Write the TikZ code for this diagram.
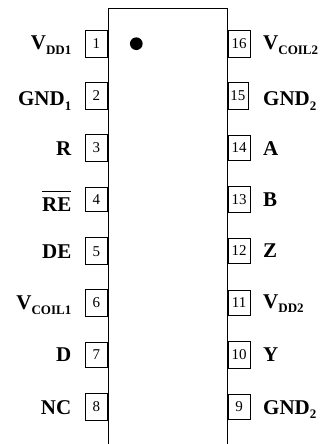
\documentclass[tikz,border=0pt]{standalone}
\usepackage{fontspec}
\setmainfont{Liberation Serif}
\tikzset{
  x=1pt,y=-1pt,
  pinbox/.style={draw,line width=0.6pt,inner sep=0pt,font=\fontsize{15}{16}\selectfont},
  lab/.style={inner sep=0pt,font=\bfseries\fontsize{21}{22}\selectfont},
  chip/.style={line width=0.7pt}
}
\newcommand{\subs}[2]{#1\raisebox{-4.8pt}{\fontsize{13}{14}\selectfont #2}}
\begin{document}
\begin{tikzpicture}
\useasboundingbox (0,0) rectangle (321,444);
\coordinate (tl) at (108,8.5);
\coordinate (tr) at (227.5,8.5);
\coordinate (bl) at (108,444);
\coordinate (br) at (227.5,444);
\draw[chip] (bl) -- (tl) -- (tr) -- (br);
\node[circle,fill=black,inner sep=0pt,minimum size=12.7pt] (dot) at (136.3,43.7) {};
% number / box centre / box height / label baseline / label
\foreach \n/\y/\h/\b/\t in {1/44/26.6/50/{\subs{V}{DD1}},2/95.5/27/105.7/{\subs{GND}{1}},3/147.8/27/155/{R},4/199.3/24.7/211/{\rlap{\rule[19.6pt]{29pt}{0.7pt}}RE},5/251.2/27/258.3/{DE},6/302.7/26.7/309.3/{\subs{V}{COIL1}},7/355/24.7/361.7/{D},8/406.7/26.7/414/{NC}}{
  \node[pinbox,minimum width=22.7pt,minimum height=\h pt,anchor=east] (p\n) at (108,\y) {\n};
  \coordinate (b\n) at (71.5,\b);
  \node[lab,anchor=base east] (l\n) at (b\n) {\t};
}
% number / box centre / box height / box width / label baseline / label
\foreach \n/\y/\h/\w/\b/\t in {16/44/26.6/22.5/50/{\subs{V}{COIL2}},15/95.5/27/20/105.5/{\subs{GND}{2}},14/147.7/25.3/22.5/155/{A},13/199.3/26.7/22.8/206/{B},12/251/24.7/22.5/257.7/{Z},11/303/24.7/22.5/308/{\subs{V}{DD2}},10/354.8/26.3/22.5/361.7/{Y},9/406.8/25/22.5/414/{\subs{GND}{2}}}{
  \node[pinbox,minimum width=\w pt,minimum height=\h pt,anchor=west] (p\n) at (227.5,\y) {\n};
  \coordinate (b\n) at (263,\b);
  \node[lab,anchor=base west] (l\n) at (b\n) {\t};
}
\end{tikzpicture}
\end{document}
